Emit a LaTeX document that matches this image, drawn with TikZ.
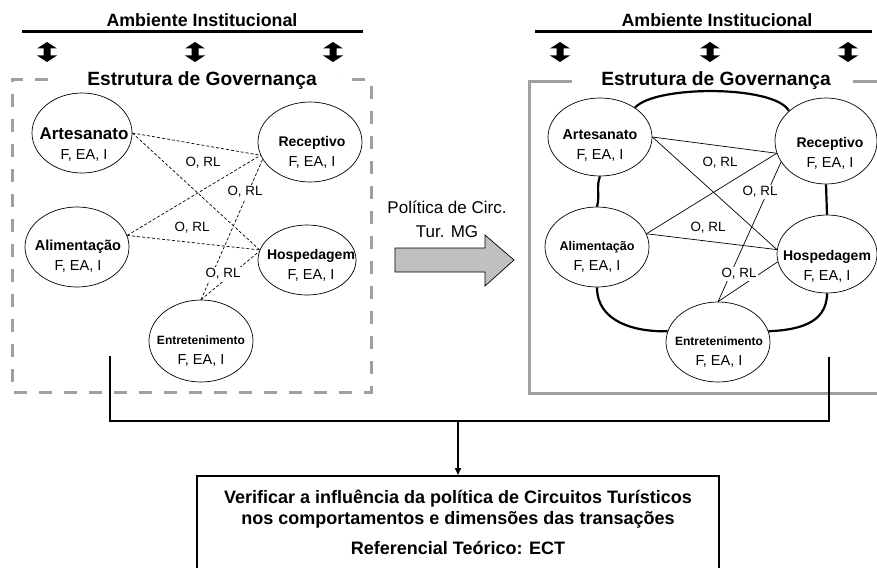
\documentclass[tikz,border=0pt]{standalone}
\usepackage{fontspec}
\setmainfont{Liberation Sans}
\usetikzlibrary{calc,arrows.meta,shapes.geometric}
\definecolor{framegray}{HTML}{A0A0A0}
\definecolor{arrowgray}{HTML}{C0C0C0}
\begin{document}
\begin{tikzpicture}[x=1pt,y=-1pt,
  el/.style={ellipse, draw, line width=0.7pt, inner sep=0pt},
  nm/.style={align=center, inner sep=0pt, font=\fontsize{14.5}{20}\selectfont},
  lbl/.style={fill=white, inner sep=1pt, font=\fontsize{13.4}{15}\selectfont},
  ttl/.style={anchor=base, inner sep=0pt, font=\fontsize{17.8}{20}\selectfont\bfseries},
  gov/.style={anchor=base, inner sep=0pt, font=\fontsize{19.2}{22}\selectfont\bfseries},
  dsh/.style={line width=0.7pt, dash pattern=on 3pt off 2pt},
  sol/.style={line width=0.7pt},
  thk/.style={line width=2.2pt},
  dbl/.pic={\fill (0,-10) -- (10,-3.5) -- (3.5,-3.5) -- (3.5,3.5) -- (10,3.5) -- (0,10) -- (-10,3.5) -- (-3.5,3.5) -- (-3.5,-3.5) -- (-10,-3.5) -- cycle;}
]
\useasboundingbox (0,0) rectangle (877,567);

% ---------------- LEFT PANEL ----------------
\node[ttl] (lamb) at (202,27) {Ambiente Institucional};
\draw[line width=3pt] (22,32) -- (363,32);
\pic at (47,52) {dbl};
\pic at (195,52) {dbl};
\pic at (333,52) {dbl};
\draw[framegray, line width=3pt, dash pattern=on 13pt off 12pt] (48,80) -- (12,80) -- (12,392) -- (371,392) -- (371,80) -- (340,80);
\node[gov] (lgov) at (202,86) {Estrutura de Governança};

\node[el, minimum width=100, minimum height=80] (lart) at (82,133) {};
\node[el, minimum width=104, minimum height=80] (lrec) at (310,142) {};
\node[el, minimum width=104, minimum height=80] (lali) at (77,247) {};
\node[el, minimum width=98, minimum height=70] (lhos) at (307,260) {};
\node[el, minimum width=104, minimum height=82] (lent) at (201,341) {};

\node[nm] (tlart) at (84,145) {{\fontsize{17}{20}\selectfont\bfseries Artesanato}\\F, EA, I};
\node[nm] (tlrec) at (312,152.5) {{\fontsize{14}{20}\selectfont\bfseries Receptivo}\\F, EA, I};
\node[nm] (tlali) at (78,256.5) {{\fontsize{14.5}{20}\selectfont\bfseries Alimentação}\\F, EA, I};
\node[nm] (tlhos) at (311,265) {{\fontsize{14}{18}\selectfont\bfseries Hospedagem}\\F, EA, I};
\node[nm] (tlent) at (201,351) {{\fontsize{12}{20}\selectfont\bfseries Entretenimento}\\F, EA, I};

\draw[dsh] (lart.east) -- (lrec.195);
\draw[dsh] (lart.east) -- (lhos.168);
\draw[dsh] (lali.13) -- (lrec.195);
\draw[dsh] (lali.13) -- (lhos.168);
\draw[dsh] (lent.north) -- (lrec.200);
\draw[dsh] (lent.north) -- (lhos.170);

\node[lbl] (ll1) at (203,163) {O, RL};
\node[lbl] (ll2) at (245,192) {O, RL};
\node[lbl] (ll3) at (192,228) {O, RL};
\node[lbl] (ll4) at (223,274) {O, RL};

% ---------------- POLICY ARROW ----------------
\node[anchor=base, inner sep=0pt, font=\fontsize{17}{20}\selectfont] (pol1) at (447,213) {Política de Circ.};
\node[anchor=base, inner sep=0pt, font=\fontsize{17}{20}\selectfont] (pol2) at (447,237) {Tur. MG};
\draw[fill=arrowgray, line width=0.7pt] (395,248) -- (485,248) -- (485,235) -- (514,260) -- (485,286) -- (485,272) -- (395,272) -- cycle;

% ---------------- RIGHT PANEL ----------------
\node[ttl] (ramb) at (717,27) {Ambiente Institucional};
\draw[line width=3pt] (535,32) -- (872,32);
\pic at (560,52) {dbl};
\pic at (710,52) {dbl};
\pic at (848,52) {dbl};
\draw[framegray, line width=3pt] (572,82) -- (529,82) -- (529,393) -- (890,393);
\draw[framegray, line width=3pt] (853,82) -- (890,82);
\node[gov] (rgov) at (716,86) {Estrutura de Governança};

\node[el, minimum width=104, minimum height=78] (rart) at (600,137) {};
\node[el, minimum width=102, minimum height=86] (rrec) at (826,141) {};
\node[el, minimum width=104, minimum height=80] (rali) at (597,247) {};
\node[el, minimum width=100, minimum height=78] (rhos) at (827,254) {};
\node[el, minimum width=104, minimum height=80] (rent) at (718,342) {};

\node[nm] (trart) at (600,146) {{\fontsize{14.3}{20}\selectfont\bfseries Artesanato}\\F, EA, I};
\node[nm] (trrec) at (830,153) {{\fontsize{14}{20}\selectfont\bfseries Receptivo}\\F, EA, I};
\node[nm] (trali) at (597,256.5) {{\fontsize{12.6}{20}\selectfont\bfseries Alimentação}\\F, EA, I};
\node[nm] (trhos) at (827,266) {{\fontsize{14}{18}\selectfont\bfseries Hospedagem}\\F, EA, I};
\node[nm] (trent) at (719,352) {{\fontsize{12}{20}\selectfont\bfseries Entretenimento}\\F, EA, I};

\draw[sol] (rart.east) -- (rrec.194);
\draw[sol] (rart.east) -- (rhos.175);
\draw[sol] (rali.15) -- (rrec.194);
\draw[sol] (rali.15) -- (rhos.175);
\draw[sol] (rent.north) -- (rrec.205);
\draw[sol] (rent.north) -- (rhos.189);

\draw[thk] (rart.40) .. controls (655,85) and (775,85) .. (rrec.141);
\draw[thk] (rart.south) .. controls (596,186) and (600,196) .. (rali.north);
\draw[thk] (rrec.south) -- (rhos.north);
\draw[thk] (rali.south) .. controls (597,322) and (635,332) .. (rent.168);
\draw[thk] (rhos.south) .. controls (827,325) and (795,330) .. (rent.12);

\node[lbl] (rl1) at (720,163) {O, RL};
\node[lbl] (rl2) at (760,192) {O, RL};
\node[lbl] (rl3) at (708,228) {O, RL};
\node[lbl] (rl4) at (739,274) {O, RL};

% ---------------- BOTTOM ----------------
\node[draw, line width=2pt, rectangle, minimum width=522, minimum height=140, anchor=north] (res) at (458,475) {};
\node[anchor=base, inner sep=0pt, font=\fontsize{18}{21}\selectfont\bfseries] (res1) at (458,503) {Verificar a influência da política de Circuitos Turísticos};
\node[anchor=base, inner sep=0pt, font=\fontsize{18}{21}\selectfont\bfseries] (res2) at (458,524) {nos comportamentos e dimensões das transações};
\node[anchor=base, inner sep=0pt, font=\fontsize{18}{21}\selectfont\bfseries] (res3) at (458,554) {Referencial Teórico: ECT};

\coordinate (lb) at (110,356);
\coordinate (lj) at (110,421);
\coordinate (rb) at (829,357);
\coordinate (rj) at (829,421);
\coordinate (mj) at (458,421);
\draw[line width=2pt] (lb) -- (lj) -- (rj) -- (rb);
\draw[line width=1.5pt, -{Triangle[length=7pt,width=6pt]}] (mj) -- (res.north);
\end{tikzpicture}
\end{document}
